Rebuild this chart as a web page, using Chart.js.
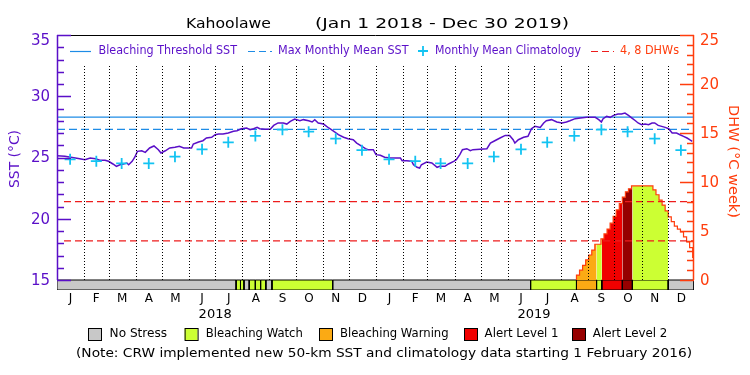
<!DOCTYPE html>
<html>
<head>
<meta charset="utf-8">
<script src="https://cdn.jsdelivr.net/npm/chart.js@4.4.1/dist/chart.umd.min.js"></script>
<style>
  html, body { margin: 0; padding: 0; background: #fff; }
  canvas { display: block; }
</style>
</head>
<body>
<canvas id="chart" width="750" height="375"></canvas>
<script>
// All days are counted from Jan 1 2018 (day 0)

// Daily SST
const sstDays = [0, 9, 21, 26, 32, 38, 44, 49, 55, 59,
    64, 68, 72, 76, 80, 82, 86, 89, 92, 97,
    101, 106, 111, 116, 119, 124, 129, 135, 140, 145,
    154, 156, 162, 167, 171, 177, 181, 185, 190, 196,
    202, 206, 211, 217, 221, 225, 229, 232, 238, 244,
    248, 253, 259, 263, 267, 272, 278, 282, 288, 292,
    295, 299, 305, 311, 314, 318, 322, 328, 333, 339,
    343, 349, 353, 356, 362, 365, 370, 375, 381, 387,
    393, 395, 400, 406, 408, 412, 415, 417, 423, 429,
    435, 438, 444, 448, 454, 457, 461, 464, 469, 473,
    476, 492, 496, 501, 507, 513, 518, 522, 524, 528,
    534, 539, 543, 547, 553, 557, 560, 566, 572, 578,
    583, 587, 593, 599, 606, 616, 620, 623, 625, 629,
    633, 637, 642, 646, 650, 654, 658, 662, 665, 669,
    673, 677, 681, 684, 688, 692, 696, 700, 704, 709,
    713, 717, 721, 724, 727];
const sstValues = [25.15, 25.1, 24.96, 24.9, 24.82, 24.96, 24.9, 24.77, 24.77, 24.69,
    24.47, 24.28, 24.41, 24.47, 24.55, 24.41, 24.69, 25.02, 25.5, 25.55,
    25.42, 25.78, 25.94, 25.64, 25.37, 25.55, 25.78, 25.83, 25.91, 25.78,
    25.78, 26.1, 26.27, 26.37, 26.59, 26.65, 26.86, 26.92, 26.92, 27.0,
    27.14, 27.19, 27.35, 27.41, 27.27, 27.35, 27.46, 27.35, 27.3, 27.3,
    27.62, 27.82, 27.82, 27.73, 27.95, 28.14, 28.0, 28.09, 28.0, 27.9,
    28.09, 27.82, 27.73, 27.41, 27.27, 27.08, 26.86, 26.65, 26.53, 26.45,
    26.18, 25.91, 25.72, 25.64, 25.64, 25.23, 25.18, 25.02, 24.96, 24.96,
    24.96, 24.74, 24.74, 24.69, 24.41, 24.2, 24.14, 24.41, 24.63, 24.55,
    24.2, 24.28, 24.28, 24.47, 24.69, 24.82, 25.23, 25.64, 25.72, 25.55,
    25.64, 25.72, 26.18, 26.37, 26.59, 26.8, 26.8, 26.45, 26.18, 26.45,
    26.65, 26.73, 27.35, 27.54, 27.46, 27.82, 28.0, 28.09, 27.9, 27.82,
    27.9, 28.0, 28.17, 28.22, 28.28, 28.28, 28.09, 27.9, 28.17, 28.36,
    28.28, 28.44, 28.55, 28.55, 28.63, 28.44, 28.22, 28.0, 27.82, 27.68,
    27.73, 27.68, 27.82, 27.82, 27.62, 27.54, 27.46, 27.35, 27.0, 27.0,
    26.86, 26.73, 26.59, 26.45, 26.32];

// Monthly mean climatology, plotted mid-month
const climDays = [15, 45, 74, 105, 135, 166, 196, 227, 258, 288, 319, 349,
    380, 410, 439, 470, 500, 531, 561, 592, 623, 653, 684, 714];
const climValues = [24.85, 24.7, 24.52, 24.52, 25.07, 25.67, 26.24, 26.76, 27.27, 27.11, 26.54, 25.6,
    24.85, 24.7, 24.52, 24.52, 25.07, 25.67, 26.24, 26.76, 27.27, 27.11, 26.54, 25.6];

const bleachingThreshold = 28.3;
const maxMonthlyMean = 27.3;
const dhwLevels = [4, 8];

// Degree heating weeks (twice-weekly steps)
const dhwDays = [594.5, 598, 601.5, 605, 608.5, 612, 615.5, 619, 622.5, 626,
    629.5, 633, 636.5, 640, 643.5, 647, 650.5, 654, 657.5, 661,
    664.5, 668, 671.5, 675, 678.5, 682, 685.5, 689, 692.5, 696,
    699.5, 703, 706.5, 710, 713.5, 717, 720.5, 724, 727.5];
const dhwValues = [0.5, 1.0, 1.5, 2.05, 2.55, 3.05, 3.65, 3.65, 4.2, 4.7,
    5.2, 5.8, 6.5, 7.15, 7.8, 8.45, 9.0, 9.3, 9.6, 9.6,
    9.6, 9.6, 9.6, 9.6, 9.6, 9.2, 8.7, 8.15, 7.65, 7.05,
    6.45, 5.95, 5.5, 5.2, 4.9, 4.4, 3.9, 3.3, 2.3];

// Stress level periods: stressBreaks[i] .. stressBreaks[i+1] has stressLevels[i]
const stressBreaks = [0, 205, 210, 214, 220, 227, 233, 239, 246, 315.5, 542, 594.5, 617.5, 623.5, 647, 658.5, 699.5, 729];
const stressLevels = ["none", "watch", "watch", "none", "watch", "watch", "watch", "none", "watch", "none",
    "watch", "warning", "watch", "alert1", "alert2", "watch", "none"];

const monthLabels = ["J", "F", "M", "A", "M", "J", "J", "A", "S", "O", "N", "D"];
const yearLabels = ["2018", "2019"];
const sstTicks = [15, 20, 25, 30, 35];
const dhwTicks = [0, 5, 10, 15, 20, 25];

const levelColors = {
    none: "#c8c8c8",
    watch: "#ccff33",
    warning: "#fbaa14",
    alert1: "#f00000",
    alert2: "#960000"
};
const legendItems = [
    ["none", "No Stress"],
    ["watch", "Bleaching Watch"],
    ["warning", "Bleaching Warning"],
    ["alert1", "Alert Level 1"],
    ["alert2", "Alert Level 2"]
];

const PURPLE = "#5a0fc8";
const ORANGE = "#ff3d0d";
const BLUE = "#1e8ce6";
const RED = "#ee1c1c";
const CYAN = "#12c3f2";
const FONT = "'DejaVu Sans', sans-serif";

// month boundaries / centres as day numbers
const monthStarts = [];
const monthMids = [];
[2018, 2019].forEach(yr => {
    for (let m = 0; m < 12; m++) {
        const s = (Date.UTC(yr, m, 1) - Date.UTC(2018, 0, 1)) / 864e5;
        const e = (Date.UTC(yr, m + 1, 1) - Date.UTC(2018, 0, 1)) / 864e5;
        monthStarts.push(s);
        monthMids.push((s + e) / 2);
    }
});

// DHW value holding on a given day (stepped)
function dhwAt(day) {
    let v = 0;
    dhwDays.forEach((d, i) => { if (d <= day) v = dhwValues[i]; });
    return v;
}

const datasets = [];

// stress band under the axis
stressLevels.forEach((lvl, i) => {
    const s = stressBreaks[i], e = stressBreaks[i + 1];
    datasets.push({
        data: [{x: s, y: 1}, {x: e, y: 1}],
        yAxisID: "yBand",
        borderColor: "rgba(0,0,0,0)",
        backgroundColor: levelColors[lvl],
        fill: {value: 0},
        order: 6
    });
});
const bandOutline = [];
stressLevels.forEach((lvl, i) => {
    const s = stressBreaks[i], e = stressBreaks[i + 1];
    bandOutline.push({x: s, y: 0}, {x: s, y: 1}, {x: e, y: 1}, {x: e, y: 0}, {x: s, y: 0}, {x: s, y: null});
});
datasets.push({
    data: bandOutline,
    yAxisID: "yBand",
    borderColor: "#000",
    borderWidth: 1,
    fill: false,
    order: 5
});

// DHW area coloured by stress level
stressLevels.forEach((lvl, i) => {
    if (lvl === "none") return;
    const s = stressBreaks[i], e = stressBreaks[i + 1];
    const pts = [{x: s, y: dhwAt(s)}];
    dhwDays.forEach((d, j) => { if (d > s && d < e) pts.push({x: d, y: dhwValues[j]}); });
    pts.push({x: e, y: pts[pts.length - 1].y});
    if (pts.every(p => p.y === 0)) return;
    datasets.push({
        data: pts,
        yAxisID: "yDHW",
        stepped: true,
        borderColor: "rgba(0,0,0,0)",
        backgroundColor: levelColors[lvl],
        fill: {value: 0},
        order: 4
    });
});

// DHW outline
const dhwLine = [{x: dhwDays[0], y: 0}];
dhwDays.forEach((d, i) => dhwLine.push({x: d, y: dhwValues[i]}));
dhwLine.push({x: 729, y: 1.7});
datasets.push({
    data: dhwLine,
    yAxisID: "yDHW",
    stepped: true,
    borderColor: ORANGE,
    borderWidth: 1.2,
    fill: false,
    order: 3
});

// DHW reference levels
dhwLevels.forEach(v => {
    datasets.push({
        data: [{x: 8, y: v}, {x: 729, y: v}],
        yAxisID: "yDHW",
        borderColor: RED,
        borderWidth: 1.2,
        borderDash: [7, 4],
        fill: false,
        order: 2
    });
});

// bleaching threshold and MMM
datasets.push({
    data: [{x: 0, y: bleachingThreshold}, {x: 729, y: bleachingThreshold}],
    yAxisID: "ySST",
    borderColor: BLUE,
    borderWidth: 1.2,
    fill: false,
    order: 2
});
datasets.push({
    data: [{x: 0, y: maxMonthlyMean}, {x: 729, y: maxMonthlyMean}],
    yAxisID: "ySST",
    borderColor: BLUE,
    borderWidth: 1.2,
    borderDash: [8, 4],
    fill: false,
    order: 2
});

// SST
datasets.push({
    data: sstDays.map((d, i) => ({x: d, y: sstValues[i]})),
    yAxisID: "ySST",
    borderColor: PURPLE,
    borderWidth: 1.5,
    fill: false,
    order: 1
});

// climatology crosses
datasets.push({
    data: climDays.map((d, i) => ({x: d, y: climValues[i]})),
    yAxisID: "ySST",
    showLine: false,
    pointStyle: "cross",
    pointRadius: 5.5,
    pointBorderWidth: 1.8,
    pointBorderColor: CYAN,
    pointBackgroundColor: CYAN,
    order: 0
});

// Squeeze / stretch text to a given width (IDL fonts are wide)
function fitText(ctx, str, x, y, w) {
    const m = ctx.measureText(str).width;
    ctx.save();
    ctx.translate(x, y);
    ctx.scale(w / m, 1);
    ctx.fillText(str, 0, 0);
    ctx.restore();
}

const decorPlugin = {
    id: "crwDecor",
    afterDatasetsDraw(chart) {
        const ctx = chart.ctx;
        const area = chart.chartArea;
        const xs = chart.scales.x, yS = chart.scales.ySST, yD = chart.scales.yDHW;
        const yBase = yS.getPixelForValue(15);
        ctx.save();

        // dotted month separators
        ctx.strokeStyle = "#000";
        ctx.lineWidth = 1;
        ctx.setLineDash([1, 2]);
        monthStarts.forEach(d => {
            if (d <= 0) return;
            const px = Math.round(xs.getPixelForValue(d)) + 0.5;
            ctx.beginPath();
            ctx.moveTo(px, 66);
            ctx.lineTo(px, yBase);
            ctx.stroke();
        });
        ctx.setLineDash([]);

        // frame
        ctx.beginPath();
        ctx.moveTo(area.left, area.top + 0.5);
        ctx.lineTo(area.right, area.top + 0.5);
        ctx.stroke();

        // left axis
        ctx.strokeStyle = PURPLE;
        ctx.lineWidth = 1.5;
        ctx.beginPath();
        ctx.moveTo(area.left + 0.5, area.top);
        ctx.lineTo(area.left + 0.5, yBase);
        for (let v = 15; v <= 35; v++) {
            const py = Math.round(yS.getPixelForValue(v)) + 0.5;
            ctx.moveTo(area.left, py);
            ctx.lineTo(area.left + (v % 5 === 0 ? 14 : 7), py);
        }
        ctx.stroke();

        // right axis
        ctx.strokeStyle = ORANGE;
        ctx.beginPath();
        ctx.moveTo(area.right - 0.5, area.top);
        ctx.lineTo(area.right - 0.5, yBase);
        for (let v = 0; v <= 25; v++) {
            const py = Math.round(yD.getPixelForValue(v)) + 0.5;
            ctx.moveTo(area.right, py);
            ctx.lineTo(area.right - (v % 5 === 0 ? 14 : 7), py);
        }
        ctx.stroke();

        // tick labels
        ctx.textBaseline = "middle";
        ctx.font = "15px " + FONT;
        ctx.fillStyle = PURPLE;
        ctx.textAlign = "right";
        sstTicks.forEach(v => {
            ctx.fillText(String(v), 50, Math.max(yS.getPixelForValue(v) + 1, 41));
        });
        ctx.fillStyle = ORANGE;
        ctx.textAlign = "left";
        dhwTicks.forEach(v => {
            ctx.fillText(String(v), 700, Math.max(yD.getPixelForValue(v) + 1, 41));
        });

        // axis titles
        ctx.font = "14px " + FONT;
        ctx.textAlign = "left";
        ctx.save();
        ctx.translate(15, 188);
        ctx.rotate(-Math.PI / 2);
        ctx.fillStyle = PURPLE;
        fitText(ctx, "SST (°C)", 0, 0, 58);
        ctx.restore();
        ctx.save();
        ctx.translate(733, 105);
        ctx.rotate(Math.PI / 2);
        ctx.fillStyle = ORANGE;
        fitText(ctx, "DHW (°C week)", 0, 0, 113);
        ctx.restore();

        // month + year labels
        ctx.fillStyle = "#000";
        ctx.textAlign = "center";
        ctx.font = "12px " + FONT;
        monthMids.forEach((d, i) => {
            ctx.fillText(monthLabels[i % 12], xs.getPixelForValue(d), 299);
        });
        ctx.font = "13px " + FONT;
        yearLabels.forEach((lbl, i) => {
            ctx.fillText(lbl, xs.getPixelForValue(monthStarts[i * 12 + 6]), 315);
        });

        // title
        ctx.textAlign = "left";
        ctx.font = "13.5px " + FONT;
        fitText(ctx, "Kahoolawe", 186, 24, 85);
        fitText(ctx, "(Jan 1 2018 - Dec 30 2019)", 315, 24, 254);

        // top legend
        ctx.font = "11.5px " + FONT;
        ctx.lineWidth = 1.2;
        ctx.strokeStyle = BLUE;
        ctx.beginPath();
        ctx.moveTo(70, 51.5); ctx.lineTo(91, 51.5);
        ctx.stroke();
        ctx.setLineDash([7, 4]);
        ctx.beginPath();
        ctx.moveTo(248, 51.5); ctx.lineTo(272, 51.5);
        ctx.stroke();
        ctx.strokeStyle = RED;
        ctx.beginPath();
        ctx.moveTo(591, 51.5); ctx.lineTo(614, 51.5);
        ctx.stroke();
        ctx.setLineDash([]);
        ctx.strokeStyle = CYAN;
        ctx.lineWidth = 1.8;
        ctx.beginPath();
        ctx.moveTo(418, 51); ctx.lineTo(428, 51);
        ctx.moveTo(423, 46); ctx.lineTo(423, 56);
        ctx.stroke();
        ctx.fillStyle = PURPLE;
        fitText(ctx, "Bleaching Threshold SST", 98.5, 51, 138.5);
        fitText(ctx, "Max Monthly Mean SST", 278, 51, 130.6);
        fitText(ctx, "Monthly Mean Climatology", 435, 51, 146);
        ctx.fillStyle = ORANGE;
        fitText(ctx, "4, 8 DHWs", 620, 51, 59);

        // bottom legend
        const boxX = [88, 184.6, 319, 464, 572];
        const textX = [109.6, 205.8, 340, 484.6, 592.8];
        const textW = [57.5, 97, 108.6, 74, 74.5];
        ctx.font = "12px " + FONT;
        ctx.lineWidth = 1;
        ctx.strokeStyle = "#000";
        legendItems.forEach((it, i) => {
            ctx.fillStyle = levelColors[it[0]];
            ctx.fillRect(boxX[i], 328, 13, 12);
            ctx.strokeRect(boxX[i] + 0.5, 328.5, 13, 12);
            ctx.fillStyle = "#000";
            fitText(ctx, it[1], textX[i], 334, textW[i]);
        });
        fitText(ctx, "(Note: CRW implemented new 50-km SST and climatology data starting 1 February 2016)", 76, 354, 616);

        ctx.restore();
    }
};

new Chart(document.getElementById("chart"), {
    type: "line",
    data: { datasets },
    options: {
        responsive: false,
        animation: false,
        devicePixelRatio: 1,
        layout: { padding: { left: 57, right: 56, top: 35, bottom: 85 } },
        plugins: {
            legend: { display: false },
            tooltip: { enabled: false },
            title: { display: false }
        },
        elements: { point: { radius: 0 }, line: { tension: 0 } },
        scales: {
            x: { type: "linear", min: 0, max: 729, display: false },
            ySST: { type: "linear", min: 15 - 10 / 12.25, max: 35, display: false },
            yDHW: { type: "linear", min: -10 / 9.8, max: 25, display: false },
            yBand: { type: "linear", min: 0, max: 25.5, display: false }
        }
    },
    plugins: [decorPlugin]
});
</script>
</body>
</html>
